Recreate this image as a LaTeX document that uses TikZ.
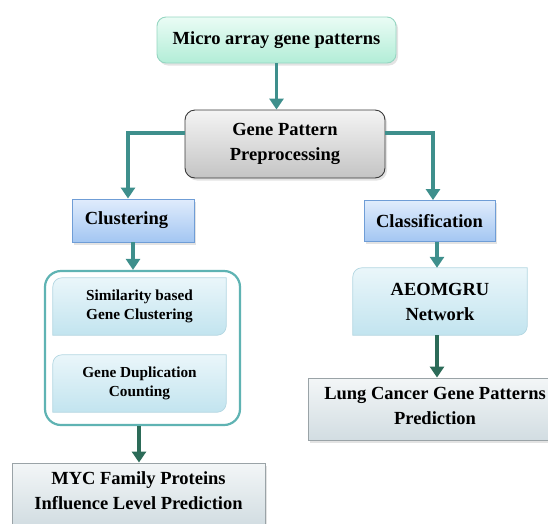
\documentclass[tikz,border=0pt]{standalone}
\usepackage{fontspec}
\setmainfont{Liberation Serif}
\usetikzlibrary{arrows.meta,shadows,backgrounds,calc}
\definecolor{tealA}{HTML}{3E8F8C}
\definecolor{greenA}{HTML}{2C6B58}
\definecolor{mintT}{HTML}{EAFCF5}
\definecolor{mintB}{HTML}{B2EDD7}
\definecolor{mintD}{HTML}{96D6C2}
\definecolor{grayT}{HTML}{F4F4F4}
\definecolor{grayB}{HTML}{C4C4C4}
\definecolor{grayD}{HTML}{3A3A3A}
\definecolor{blueT}{HTML}{E0ECFC}
\definecolor{blueB}{HTML}{A3C6F2}
\definecolor{blueD}{HTML}{6F9DD6}
\definecolor{lbT}{HTML}{EAF6FA}
\definecolor{lbB}{HTML}{C2E4EF}
\definecolor{lbD}{HTML}{B4D8E3}
\definecolor{outerD}{HTML}{5FB3B3}
\definecolor{resT}{HTML}{F3F6F7}
\definecolor{resB}{HTML}{D2DDE2}
\definecolor{resD}{HTML}{9AA3A7}
\newcommand\bigfont{\fontsize{18.5}{25}\selectfont\bfseries}
\newcommand\smallfont{\fontsize{15.3}{19.5}\selectfont\bfseries}
\newcommand\diagpath[1]{([yshift=-9pt]#1.north west) arc[start angle=180,end angle=90,radius=9pt] -- (#1.north east) -- ([yshift=9pt]#1.south east) arc[start angle=0,end angle=-90,radius=9pt] -- (#1.south west) -- cycle}
\tikzset{
  shad/.style={drop shadow={opacity=0.22,shadow xshift=2pt,shadow yshift=-2.5pt}},
  base/.style={inner sep=0pt, align=center, font=\bigfont},
  mintbox/.style={base, draw=mintD, line width=0.9pt, rounded corners=9pt, top color=mintT, bottom color=mintB, shad},
  graybox/.style={base, draw=grayD, line width=0.9pt, rounded corners=10pt, top color=grayT, bottom color=grayB, shad},
  bluebox/.style={base, draw=blueD, line width=0.9pt, top color=blueT, bottom color=blueB, shad},
  resbox/.style={base, draw=resD, line width=0.9pt, top color=resT, bottom color=resB, shad},
  outerbox/.style={draw=outerD, line width=2.2pt, rounded corners=16pt},
  txt/.style={base},
  tealarrow/.style={draw=tealA, line width=3.8pt, -{Triangle[width=14pt,length=11pt]}},
  greenarrow/.style={draw=greenA, line width=3.8pt, -{Triangle[width=14pt,length=11pt]}},
}
\begin{document}
\begin{tikzpicture}[x=1pt,y=1pt]
\useasboundingbox (0,0) rectangle (548,-523);
\clip (0,0) rectangle (548,-523);

\node[mintbox, minimum width=239pt, minimum height=46pt] (top) at (276.5,-40) {Micro array gene patterns};
\node[graybox, minimum width=200pt, minimum height=68pt] (gp) at (285,-144) {Gene Pattern\\Preprocessing};
\node[bluebox, minimum width=122pt, minimum height=43pt] (clu) at (133,-220.5) {};
\node[txt] (cluT) at (126.5,-220) {Clustering};
\node[bluebox, minimum width=131pt, minimum height=41pt] (cla) at (429.5,-221) {Classification};
\node[outerbox, minimum width=195pt, minimum height=154pt] (outer) at (142.5,-348) {};
\node[txt, font=\smallfont, minimum width=173pt, minimum height=57pt] (sim) at (139.5,-306.5) {Similarity based\\Gene Clustering};
\node[txt, font=\smallfont, minimum width=173pt, minimum height=57pt] (dup) at (139.5,-383.5) {Gene Duplication\\Counting};
\node[txt, minimum width=174pt, minimum height=67pt] (aeo) at (440,-301.5) {AEOMGRU\\Network};
\node[resbox, minimum width=241pt, minimum height=62pt] (lung) at (428.5,-409) {};
\node[txt, text depth=0pt] (lungT) at (435,-405.5) {Lung Cancer Gene Patterns\\Prediction};
\node[resbox, minimum width=253pt, minimum height=62pt] (myc) at (138.5,-494) {};
\node[txt] (mycT) at (138.5,-490.5) {MYC Family Proteins\\Influence Level Prediction};

\begin{scope}[on background layer]
  \foreach \n in {sim,dup,aeo}{
    \fill[black, opacity=0.16, xshift=2pt, yshift=-2.5pt] \diagpath{\n};
    \shade[top color=lbT, bottom color=lbB] \diagpath{\n};
    \draw[lbD, line width=0.7pt] \diagpath{\n};
  }
\end{scope}

\coordinate (lx) at (128,-133);
\coordinate (rx) at (433,-133);
\draw[tealarrow] (top.south) -- (gp.north -| top.south);
\draw[tealarrow] (gp.west |- lx) -- (lx) -- (clu.north -| lx);
\draw[tealarrow] (gp.east |- rx) -- (rx) -- (cla.north -| rx);
\draw[tealarrow] (clu.south) -- (outer.north -| clu.south);
\coordinate (ax) at (437,-241);
\draw[tealarrow] (cla.south -| ax) -- (aeo.north -| ax);
\draw[greenarrow] (aeo.south -| ax) -- (lung.north -| ax);
\coordinate (mx) at (139,-425);
\draw[greenarrow] (outer.south -| mx) -- (myc.north -| mx);
\end{tikzpicture}
\end{document}
